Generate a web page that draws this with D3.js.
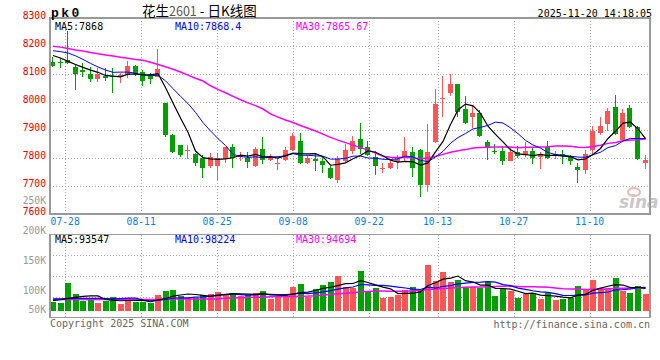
<!DOCTYPE html>
<html><head><meta charset="utf-8">
<script src="https://cdn.jsdelivr.net/npm/d3@7"></script>
<style>html,body{margin:0;padding:0;background:#fff;}svg{display:block;}</style>
</head><body>
<svg id="c" width="660" height="360"></svg>
<script>
// ---------- data ----------
const opens  = [8143,8143,8150,8125,8115,8101,8082,8093,8093,8092,8098,8129,8106,8094,8091,7995,7883,7845,7826,7815,
                7800,7770,7770,7795,7839,7803,7800,7771,7833,7794,7779,7794,7828,7861,7781,7797,7791,7764,7720,7791,
                7825,7869,7838,7805,7762,7763,7786,7800,7820,7828,7702,7858,8010,8033,8063,7976,7947,7962,7858,7825,
                7825,7791,7821,7812,7825,7803,7839,7810,7813,7803,7769,7756,7828,7890,7920,7983,7866,7980,7911,7781];
const highs  = [8161,8158,8252,8133,8140,8125,8120,8120,8122,8105,8148,8133,8113,8103,8190,7998,7884,7848,7845,7818,
                7812,7818,7818,7840,7851,7822,7820,7838,7876,7813,7800,7840,7890,7888,7810,7815,7805,7770,7808,7850,
                7878,7926,7862,7824,7783,7795,7812,7875,7838,7832,7920,8045,8093,8099,8065,8020,7986,7970,7863,7849,
                7843,7837,7843,7858,7837,7822,7860,7825,7828,7810,7783,7827,7914,7946,7977,8025,7974,7989,7914,7809];
const lows   = [8125,8120,8136,8044,8090,8073,8070,8075,8032,8068,8087,8092,8056,8066,8088,7876,7819,7803,7796,7772,
                7730,7764,7720,7782,7764,7790,7766,7768,7777,7790,7756,7788,7825,7777,7778,7753,7748,7724,7709,7783,
                7815,7815,7808,7741,7745,7759,7760,7790,7733,7662,7680,7855,7947,8020,7945,7920,7908,7874,7792,7813,
                7774,7789,7799,7803,7777,7759,7795,7795,7780,7774,7712,7742,7815,7882,7896,7882,7858,7906,7794,7759];
const closes = [8130,8139,8141,8101,8107,8081,8100,8085,8088,8095,8130,8100,8075,8083,8118,7882,7823,7809,7829,7781,
                7764,7803,7800,7838,7800,7810,7785,7833,7793,7804,7782,7830,7880,7781,7800,7788,7774,7728,7797,7827,
                7861,7832,7812,7771,7765,7781,7797,7826,7763,7705,7821,7994,8013,8065,7965,7926,7962,7878,7837,7820,
                7790,7821,7806,7825,7799,7815,7799,7815,7807,7789,7756,7815,7896,7914,7968,7884,7962,7911,7795,7793];
const volumesK = [38,32,118,70,42,48,34,41,58,28,53,38,38,31,66,83,87,62,53,55,
                  64,70,80,70,74,62,64,74,83,48,56,62,100,112,59,91,108,122,146,101,
                  94,167,84,95,55,59,66,87,100,84,192,125,162,120,129,94,98,97,119,62,
                  90,84,53,70,70,49,73,45,49,55,104,91,129,96,94,137,83,74,104,70];

// moving-average values before enough history exists
const ma5Lead  = [8166,8157,8145,8134];
const ma10Lead = [8183,8180,8175,8165,8152,8138,8125,8114,8106];
const ma30Lead = [8199,8196,8191,8186,8182,8177,8172,8168,8164,8160,8156,8152,8149,8142,8134,
                  8126,8117,8107,8096,8085,8075,8058,8045,8033,8020,8008,7997,7987,7975];
const vma5Lead  = [42,46,52,56];
const vma10Lead = [50,50,51,52,52,52,52,51,50];
const vma30Lead = [47,47,47,47,47,47,47,47,47,47,47,47,47,47,47,
                   49,49,49,49,49,49,49,49,52,53,54,55,56,57];

const tickIdx    = [2,12,22,32,42,51,61,71];
const tickLabels = ["07-28","08-11","08-25","09-08","09-22","10-13","10-27","11-10"];
const priceTicks = [8300,8200,8100,8000,7900,7800,7700,7600];
const volTicks   = [250000,200000,150000,100000,50000];
const volTickLabels = ["250K","200K","150K","100K","50K"];
const priceLegendText = ["MA5:7868","MA10:7868.4","MA30:7865.67"];
const volLegendText   = ["MA5:93547","MA10:98224","MA30:94694"];
const titleCode = "pk0";
const titleName = "花生";
const titleContract = "2601";
const titleKind = " - 日K线图";
const timeStamp = "2025-11-20 14:18:05";
const copyrightText = "Copyright 2025 SINA.COM";
const urlText = "http://finance.sina.com.cn";

// ---------- helpers ----------
const volumes = volumesK.map(v => v * 1000);
function movingAvg(arr, n, lead) {
  return arr.map((v, i) => i < n - 1 ? lead[i] : d3.mean(arr.slice(i - n + 1, i + 1)));
}
const ma5 = movingAvg(closes, 5, ma5Lead);
const ma10 = movingAvg(closes, 10, ma10Lead);
const ma30 = movingAvg(closes, 30, ma30Lead);
const vma5 = movingAvg(volumes, 5, vma5Lead.map(v => v * 1000));
const vma10 = movingAvg(volumes, 10, vma10Lead.map(v => v * 1000));
const vma30 = movingAvg(volumes, 30, vma30Lead.map(v => v * 1000));

// ---------- layout / scales ----------
const L = 50, R = 650;
const pTop = 18, pBot = 214;
const vTop = 234.5, vBot = 317.5;
const xC = d3.scaleLinear().domain([0, closes.length - 1]).range([53, 645.5]);
const xG = d3.scaleLinear().domain([0, 80]).range([50, 658]);
const yP = d3.scaleLinear().domain([7600, 8300]).range([pBot, pTop]);
const yV = d3.scaleLinear().domain([0, 320000]).range([310.7, 234.5]);
const yVL = d3.scaleLinear().domain([250000, 100000]).range([201, 291]);
const yVGrid = d3.scaleLinear().domain([0, 4]).range([vTop, vBot]);

const UP = "#ff5555", DOWN = "#00a000";
const MONO = "'DejaVu Sans Mono', monospace";
const svg = d3.select("#c");

// ---------- grids ----------
const grid = svg.append("g").attr("stroke", "#aaa").attr("stroke-dasharray", "1,2")
  .attr("shape-rendering", "crispEdges");
priceTicks.slice(1, -1).forEach(v => {
  const y = Math.round(yP(v)) + 0.5;
  grid.append("line").attr("x1", L).attr("x2", R).attr("y1", y).attr("y2", y);
});
[1, 2, 3].forEach(k => {
  const y = Math.round(yVGrid(k)) + 0.5;
  grid.append("line").attr("x1", L).attr("x2", R).attr("y1", y).attr("y2", y);
});
tickIdx.forEach(i => {
  const x = Math.round(xG(i)) + 0.5;
  grid.append("line").attr("x1", x).attr("x2", x).attr("y1", pTop).attr("y2", pBot);
  grid.append("line").attr("x1", x).attr("x2", x).attr("y1", vTop).attr("y2", vBot);
});

// ---------- watermark ----------
svg.append("ellipse").attr("cx", 634).attr("cy", 192).attr("rx", 6).attr("ry", 4)
  .attr("fill", "none").attr("stroke", "#f2b8b8").attr("stroke-width", 2);
svg.append("text").attr("x", 619).attr("y", 208).text("sina")
  .attr("font-family", "'DejaVu Sans', sans-serif").attr("font-weight", "bold")
  .attr("font-style", "italic").attr("font-size", 17).attr("fill", "#c8c8c8");

// ---------- clip ----------
svg.append("clipPath").attr("id", "pclip").append("rect")
  .attr("x", L).attr("y", pTop).attr("width", R - L).attr("height", pBot - pTop);
svg.append("clipPath").attr("id", "vclip").append("rect")
  .attr("x", L).attr("y", vTop).attr("width", R - L).attr("height", vBot - vTop);

// ---------- candles ----------
const cg = svg.append("g").attr("clip-path", "url(#pclip)").attr("shape-rendering", "crispEdges");
closes.forEach((c, i) => {
  const o = opens[i], h = highs[i], l = lows[i];
  const col = c >= o ? UP : DOWN;
  const cx = Math.round(xC(i));
  cg.append("line").attr("x1", cx - 0.5).attr("x2", cx - 0.5)
    .attr("y1", Math.round(yP(h))).attr("y2", Math.round(yP(l)))
    .attr("stroke", col).attr("stroke-width", 1);
  const top = Math.round(yP(Math.max(o, c))), bot = Math.round(yP(Math.min(o, c)));
  cg.append("rect").attr("x", cx - 3).attr("width", 5)
    .attr("y", top).attr("height", Math.max(1, bot - top)).attr("fill", col);
});

// ---------- MA lines ----------
function drawLine(g, data, yScale, color, w) {
  g.append("path").datum(data)
    .attr("d", d3.line().x((d, i) => xC(i)).y(d => yScale(d)))
    .attr("fill", "none").attr("stroke", color).attr("stroke-width", w);
}
const ml = svg.append("g").attr("clip-path", "url(#pclip)");
drawLine(ml, ma30, yP, "#ff00ff", 1.5);
drawLine(ml, ma10, yP, "#0000ff", 1);
drawLine(ml, ma5, yP, "#000000", 1.2);

// ---------- volume ----------
const vg = svg.append("g").attr("clip-path", "url(#vclip)").attr("shape-rendering", "crispEdges");
volumes.forEach((v, i) => {
  const col = closes[i] >= opens[i] ? UP : DOWN;
  const cx = Math.round(xC(i));
  const top = Math.round(yV(v)), bot = Math.round(yV(0));
  vg.append("rect").attr("x", cx - 3).attr("width", 6).attr("y", top).attr("height", bot - top).attr("fill", col);
});
const vl = svg.append("g").attr("clip-path", "url(#vclip)");
drawLine(vl, vma30, yV, "#ff00ff", 1.5);
drawLine(vl, vma10, yV, "#0000ff", 1.2);
drawLine(vl, vma5, yV, "#000000", 1.2);

// ---------- frames ----------
const fr = svg.append("g").attr("fill", "none").attr("stroke", "#999").attr("stroke-width", 1.5)
  .attr("shape-rendering", "crispEdges");
fr.append("rect").attr("x", L).attr("y", pTop).attr("width", R - L).attr("height", pBot - pTop);
fr.append("rect").attr("x", L).attr("y", vTop).attr("width", R - L).attr("height", vBot - vTop);

// ---------- axis labels ----------
const tx = svg.append("g").attr("font-family", MONO).attr("font-size", 9.7);
priceTicks.forEach(v => {
  tx.append("text").attr("x", 46).attr("y", yP(v) - 2).attr("dy", "0.35em")
    .attr("text-anchor", "end").attr("fill", "#ee0000").text(v);
});
volTicks.forEach((v, k) => {
  tx.append("text").attr("x", 46).attr("y", Math.min(310, yVL(v))).attr("dy", "0.35em")
    .attr("text-anchor", "end").attr("fill", "#999").text(volTickLabels[k]);
});
tickIdx.forEach((i, k) => {
  tx.append("text").attr("x", xG(i)).attr("y", 221.5).attr("dy", "0.35em")
    .attr("text-anchor", "middle").attr("fill", "#0a7fe6").text(tickLabels[k]);
});

// ---------- legends ----------
const legColors = ["#000", "#0000ff", "#ff00ff"];
const legX = [55, 175, 296];
priceLegendText.forEach((t, k) => {
  tx.append("text").attr("x", legX[k]).attr("y", 26).attr("dy", "0.35em")
    .attr("font-size", 10).attr("fill", legColors[k]).text(t);
});
volLegendText.forEach((t, k) => {
  tx.append("text").attr("x", legX[k]).attr("y", 239.5).attr("dy", "0.35em")
    .attr("font-size", 10).attr("fill", legColors[k]).text(t);
});

// ---------- header / footer ----------
svg.append("text").attr("x", 51).attr("y", 16.5).text(titleCode)
  .attr("font-family", "'Liberation Mono', monospace").attr("font-weight", "bold")
  .attr("font-size", 13).attr("letter-spacing", 2.5).attr("fill", "#000");
const tt = svg.append("text").attr("x", 142).attr("y", 16)
  .attr("font-family", "'Noto Sans CJK SC', sans-serif").attr("font-size", 13.5).attr("fill", "#000");
tt.append("tspan").text(titleName);
tt.append("tspan").attr("fill", "#555").attr("font-size", 12.5).text(titleContract);
tt.append("tspan").text(titleKind);
svg.append("text").attr("x", 652).attr("y", 13.5).attr("dy", "0.35em").attr("text-anchor", "end")
  .attr("font-family", MONO).attr("font-size", 10).attr("fill", "#000").text(timeStamp);
svg.append("text").attr("x", 50).attr("y", 323.5).attr("dy", "0.35em")
  .attr("font-family", MONO).attr("font-size", 10).attr("fill", "#666").text(copyrightText);
svg.append("text").attr("x", 650).attr("y", 324).attr("dy", "0.35em").attr("text-anchor", "end")
  .attr("font-family", MONO).attr("font-size", 10).attr("fill", "#666").text(urlText);
</script>
</body></html>
